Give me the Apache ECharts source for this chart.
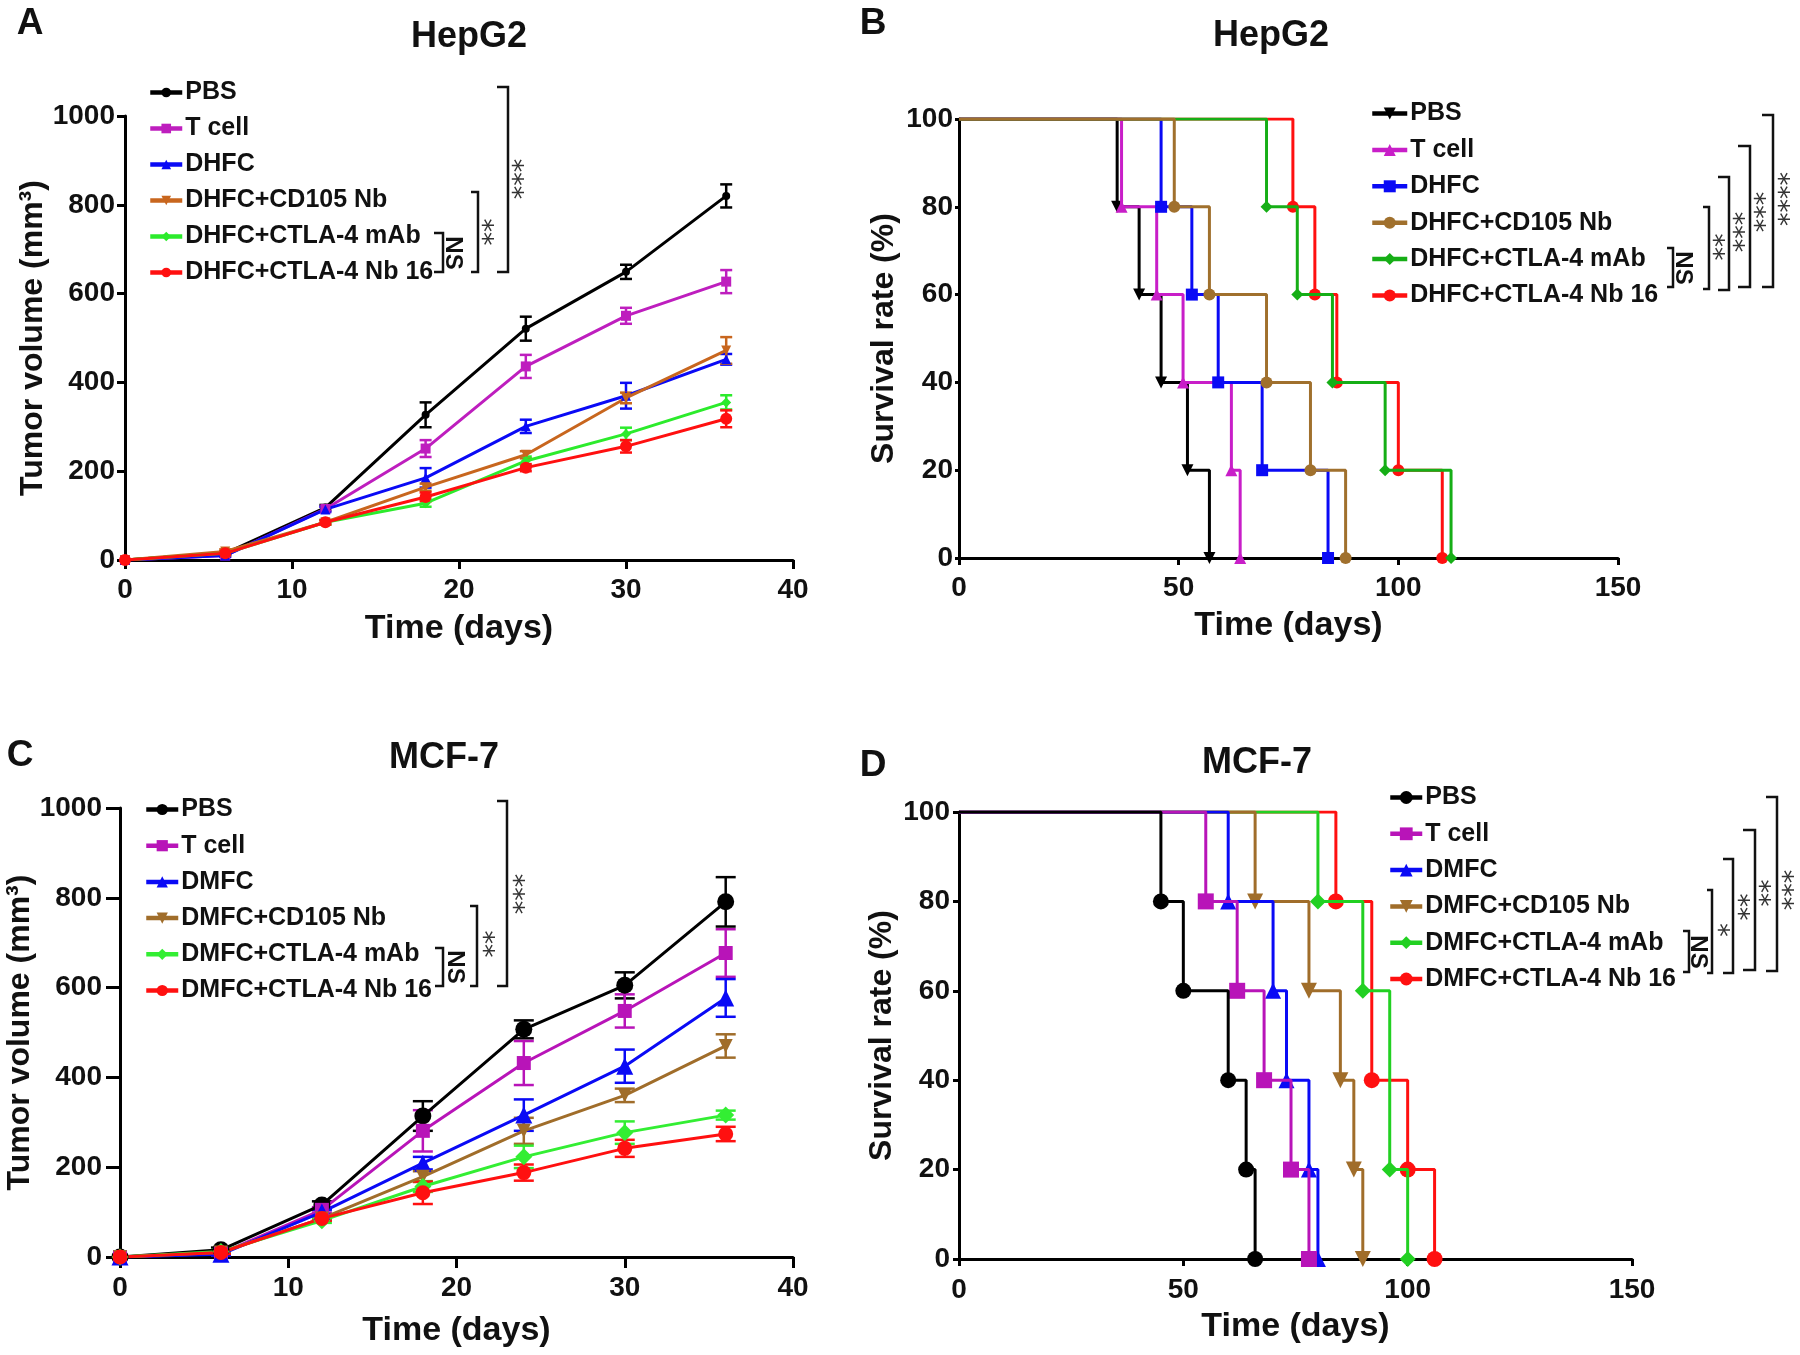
<!DOCTYPE html>
<html><head><meta charset="utf-8">
<script src="https://cdn.jsdelivr.net/npm/echarts@6/dist/echarts.min.js"></script>
<style>html,body{margin:0;padding:0;background:#fff}#c{width:1800px;height:1355px}</style>
</head><body><div id="c"></div>
<script>
// ---------- DATA ----------
const daysTumor = [0, 6, 12, 18, 24, 30, 36];
const xTicksTumor = [0, 10, 20, 30, 40];
const yTicksTumor = [0, 200, 400, 600, 800, 1000];
const xTicksSurv = [0, 50, 100, 150];
const yTicksSurv = [0, 20, 40, 60, 80, 100];

const groupsA = ['PBS', 'T cell', 'DHFC', 'DHFC+CD105 Nb', 'DHFC+CTLA-4 mAb', 'DHFC+CTLA-4 Nb 16'];
const groupsC = ['PBS', 'T cell', 'DMFC', 'DMFC+CD105 Nb', 'DMFC+CTLA-4 mAb', 'DMFC+CTLA-4 Nb 16'];

// Panel A – HepG2 tumour volume (mean, SEM)
const A_PBS   = [0, 15, 118, 327, 521, 649, 820];
const A_Tcell = [0, 10, 115, 251, 436, 550, 627];
const A_DHFC  = [0, 10, 114, 185, 301, 370, 452];
const A_CD105 = [0, 19, 85, 164, 237, 365, 472];
const A_mAb   = [0, 15, 85, 128, 223, 284, 355];
const A_Nb16  = [0, 15, 85, 142, 208, 256, 318];
const A_PBS_err   = [0, 4, 6, 28, 27, 16, 26];
const A_Tcell_err = [0, 3, 5, 19, 26, 18, 26];
const A_DHFC_err  = [0, 3, 6, 22, 15, 29, 12];
const A_CD105_err = [0, 5, 5, 8, 8, 12, 30];
const A_mAb_err   = [0, 4, 5, 8, 10, 14, 16];
const A_Nb16_err  = [0, 4, 5, 10, 8, 14, 19];

// Panel C – MCF-7 tumour volume (mean, SEM)
const C_PBS   = [0, 16, 116, 314, 507, 605, 791];
const C_Tcell = [0, 8, 105, 281, 432, 548, 677];
const C_DMFC  = [0, 6, 100, 209, 316, 425, 577];
const C_CD105 = [0, 10, 86, 179, 281, 360, 470];
const C_mAb   = [0, 12, 81, 157, 223, 277, 316];
const C_Nb16  = [0, 10, 86, 143, 188, 242, 274];
const C_PBS_err   = [0, 5, 8, 33, 20, 29, 55];
const C_Tcell_err = [0, 3, 6, 46, 49, 37, 53];
const C_DMFC_err  = [0, 3, 5, 14, 35, 37, 42];
const C_CD105_err = [0, 3, 5, 12, 29, 15, 26];
const C_mAb_err   = [0, 4, 5, 12, 25, 25, 10];
const C_Nb16_err  = [0, 3, 5, 25, 18, 19, 16];

// Panel B – HepG2 survival: event times and survival (%) after each event
const survLevels = [80, 60, 40, 20, 0];
const B_PBS_t   = [36, 41, 46, 52, 57];
const B_Tcell_t = [37, 45, 51, 62, 64];
const B_DHFC_t  = [46, 53, 59, 69, 84];
const B_CD105_t = [49, 57, 70, 80, 88];
const B_mAb_t   = [70, 77, 85, 97, 112];
const B_Nb16_t  = [76, 81, 86, 100, 110];

// Panel D – MCF-7 survival
const D_PBS_t   = [45, 50, 60, 64, 66];
const D_PBS_s   = [80, 60, 40, 20, 0];
const D_Tcell_t = [55, 62, 68, 74, 78];
const D_Tcell_s = [80, 60, 40, 20, 0];
const D_DMFC_t  = [60, 70, 73, 78, 80];
const D_DMFC_s  = [80, 60, 40, 20, 0];
const D_CD105_t = [66, 78, 85, 88, 90];
const D_CD105_s = [80, 60, 40, 20, 0];
const D_mAb_t   = [80, 90, 96, 100];
const D_mAb_s   = [80, 60, 20, 0];
const D_Nb16_t  = [84, 92, 100, 106];
const D_Nb16_s  = [80, 40, 20, 0];

// ---------- STYLE ----------
const FONT = "'Liberation Sans', Arial, Helvetica, sans-serif";
const STARFONT = "'DejaVu Sans', sans-serif";
const colA = ['#000000', '#BE1EBE', '#0A0AF5', '#C8661E', '#2CEB2C', '#FF1010'];
const colB = ['#000000', '#C81EC8', '#0A0AF5', '#A0702D', '#16AE16', '#FF1010'];
const colC = ['#000000', '#B814B8', '#0A0AF5', '#A06D2A', '#33EE33', '#FF1010'];
const colD = ['#000000', '#B814B8', '#0A0AF5', '#A06D2A', '#22D022', '#FF1010'];

const chart = echarts.init(document.getElementById('c'), null, {renderer: 'canvas', width: 1800, height: 1355});

function valAxis(gi, ticks, name, gap, margin, tickLen, nameSize) {
  return {
    type: 'value', gridIndex: gi,
    min: ticks[0], max: ticks[ticks.length - 1], interval: ticks[1] - ticks[0],
    name: name, nameLocation: 'middle', nameGap: gap,
    nameTextStyle: {fontSize: nameSize, fontWeight: 'bold', color: '#111', fontFamily: FONT},
    axisLine: {show: true, onZero: false, lineStyle: {color: '#000', width: 3}},
    axisTick: {show: true, length: tickLen, lineStyle: {color: '#000', width: 3}},
    axisLabel: {fontSize: 28, fontWeight: 'bold', color: '#111', fontFamily: FONT, margin: margin,
      formatter: v => String(v)},
    splitLine: {show: false}
  };
}

const series = [];

function addTumor(prefix, gi, names, means, errs, colors, symbols, rotates, sizes, hw) {
  names.forEach((nm, k) => {
    const color = colors[k];
    const m = means[k], e = errs[k];
    series.push({
      type: 'custom', name: prefix + 'err' + k, xAxisIndex: gi, yAxisIndex: gi, silent: true, clip: false, z: 2,
      data: daysTumor.map((x, i) => [x, m[i] - e[i], m[i] + e[i], e[i]]).filter(d => d[3] > 0),
      encode: {x: 0, y: [1, 2]},
      renderItem: (params, api) => {
        const x = api.value(0);
        const p1 = api.coord([x, api.value(2)]);
        const p2 = api.coord([x, api.value(1)]);
        const st = {stroke: color, lineWidth: 2.5};
        return {type: 'group', children: [
          {type: 'line', shape: {x1: p1[0], y1: p1[1], x2: p2[0], y2: p2[1]}, style: st},
          {type: 'line', shape: {x1: p1[0] - hw, y1: p1[1], x2: p1[0] + hw, y2: p1[1]}, style: st},
          {type: 'line', shape: {x1: p2[0] - hw, y1: p2[1], x2: p2[0] + hw, y2: p2[1]}, style: st}
        ]};
      }
    });
    series.push({
      type: 'line', name: prefix + nm, xAxisIndex: gi, yAxisIndex: gi, z: 3,
      data: daysTumor.map((x, i) => [x, m[i]]),
      symbol: symbols[k], symbolRotate: rotates[k], symbolSize: sizes[k],
      itemStyle: {color: color}, lineStyle: {color: color, width: 3},
      showSymbol: true, animation: false
    });
  });
}

function addSurv(prefix, gi, names, times, survs, colors, symbols, rotates, size, zs) {
  names.forEach((nm, k) => {
    const data = [{value: [0, 100], symbol: 'none'}].concat(times[k].map((t, i) => [t, survs[k][i]]));
    series.push({
      type: 'line', name: prefix + nm, xAxisIndex: gi, yAxisIndex: gi, step: 'end', z: zs[k],
      data: data, symbol: symbols[k], symbolRotate: rotates[k], symbolSize: size,
      itemStyle: {color: colors[k]}, lineStyle: {color: colors[k], width: 3}, animation: false
    });
  });
}

addTumor('A:', 0, groupsA,
  [A_PBS, A_Tcell, A_DHFC, A_CD105, A_mAb, A_Nb16],
  [A_PBS_err, A_Tcell_err, A_DHFC_err, A_CD105_err, A_mAb_err, A_Nb16_err],
  colA, ['circle', 'rect', 'triangle', 'triangle', 'diamond', 'circle'], [0, 0, 0, 180, 0, 0],
  [8, 10, 10, 10, 10, 12], 6);

addSurv('B:', 1, groupsA,
  [B_PBS_t, B_Tcell_t, B_DHFC_t, B_CD105_t, B_mAb_t, B_Nb16_t],
  [survLevels, survLevels, survLevels, survLevels, survLevels, survLevels],
  colB, ['triangle', 'triangle', 'rect', 'circle', 'diamond', 'circle'], [180, 0, 0, 0, 0, 0], 12,
  [3, 4, 5, 9, 8, 7]);

addTumor('C:', 2, groupsC,
  [C_PBS, C_Tcell, C_DMFC, C_CD105, C_mAb, C_Nb16],
  [C_PBS_err, C_Tcell_err, C_DMFC_err, C_CD105_err, C_mAb_err, C_Nb16_err],
  colC, ['circle', 'rect', 'triangle', 'triangle', 'diamond', 'circle'], [0, 0, 0, 180, 0, 0],
  [17, 14, 17, 14, 17, 15], 10);

addSurv('D:', 3, groupsC,
  [D_PBS_t, D_Tcell_t, D_DMFC_t, D_CD105_t, D_mAb_t, D_Nb16_t],
  [D_PBS_s, D_Tcell_s, D_DMFC_s, D_CD105_s, D_mAb_s, D_Nb16_s],
  colD, ['circle', 'rect', 'triangle', 'triangle', 'diamond', 'circle'], [0, 0, 0, 180, 0, 0], 16,
  [9, 8, 7, 6, 5, 4]);

function legend(prefix, names, left, top, gap, iw, ih) {
  return {
    orient: 'vertical', left: left, top: top, itemGap: gap, itemWidth: iw, itemHeight: ih,
    padding: 0, selectedMode: false,
    data: names.map(n => prefix + n),
    formatter: n => n.slice(2),
    lineStyle: {width: 4.5},
    textStyle: {fontSize: 25, fontWeight: 'bold', color: '#111', fontFamily: FONT, lineHeight: 24, padding: [0, 0, 0, -2]}
  };
}

// ---------- ANNOTATIONS (brackets, titles, panel letters) ----------
const graphic = [];
function txt(x, y, s, font, rot, fill) {
  graphic.push({type: 'text', x: x, y: y, rotation: rot || 0, silent: true,
    style: {text: s, font: font, fill: fill || '#111', align: 'center', verticalAlign: 'middle'}});
}
function bracket(x, top, bottom, arm, label, lx, ly) {
  graphic.push({type: 'polyline', silent: true,
    shape: {points: [[arm, top], [x, top], [x, bottom], [arm, bottom]]},
    style: {stroke: '#111', lineWidth: 2.5, fill: null}});
  if (label === 'NS') txt(lx, ly, 'NS', `bold 24px ${FONT}`, -Math.PI / 2, '#111');
  else txt(lx - 6, ly, label, `normal 27px ${STARFONT}`, -Math.PI / 2, '#333');
}

const big = s => `bold ${s}px ${FONT}`;
txt(30, 24, 'A', big(37)); txt(873, 24, 'B', big(37));
txt(20, 756, 'C', big(37)); txt(873, 766, 'D', big(37));
txt(469, 37, 'HepG2', big(36)); txt(1271, 36, 'HepG2', big(36));
txt(444, 758, 'MCF-7', big(36)); txt(1257, 763, 'MCF-7', big(36));

bracket(508, 87, 272, 497, '***', 517, 179);
bracket(478, 192, 272, 471, '**', 487, 232);
bracket(443, 233, 272, 434, 'NS', 453, 253);

bracket(1673, 248, 287, 1667, 'NS', 1683, 268);
bracket(1709, 207, 289, 1703, '**', 1718, 247);
bracket(1729, 177, 290, 1718, '***', 1738, 232);
bracket(1750, 146, 287, 1738, '***', 1759, 212);
bracket(1773, 115, 287, 1762, '****', 1783, 199);

bracket(507, 801, 986, 497, '***', 518, 894);
bracket(477, 906, 986, 470, '**', 488, 944);
bracket(443, 948, 986, 435, 'NS', 455, 967);

bracket(1689, 931, 972, 1683, 'NS', 1698, 952);
bracket(1712, 890, 973, 1707, '*', 1723, 930);
bracket(1733, 859, 973, 1723, '**', 1743, 907);
bracket(1755, 830, 970, 1743, '**', 1764, 893);
bracket(1777, 797, 971, 1766, '***', 1787, 890);

const option = {
  backgroundColor: '#ffffff',
  animation: false,
  grid: [
    {left: 125, top: 116, width: 668, height: 444},
    {left: 959, top: 119, width: 659, height: 439},
    {left: 120, top: 808, width: 673, height: 449},
    {left: 959, top: 812, width: 673, height: 447}
  ],
  xAxis: [
    valAxis(0, xTicksTumor, 'Time (days)', 52, 16, 9, 34),
    valAxis(1, xTicksSurv, 'Time (days)', 51, 16, 7, 34),
    valAxis(2, xTicksTumor, 'Time (days)', 57, 17, 11, 34),
    valAxis(3, xTicksSurv, 'Time (days)', 51, 17, 7, 34)
  ],
  yAxis: [
    valAxis(0, yTicksTumor, 'Tumor volume (mm³)', 70, 10, 8, 32),
    valAxis(1, yTicksSurv, 'Survival rate (%)', 59, 6, 4, 32),
    valAxis(2, yTicksTumor, 'Tumor volume (mm³)', 75, 18, 14, 32),
    valAxis(3, yTicksSurv, 'Survival rate (%)', 61, 9, 6, 32)
  ],
  legend: [
    legend('A:', groupsA, 148, 80, 11, 32, 12),
    legend('B:', groupsA, 1370, 101, 11.4, 35, 15),
    legend('C:', groupsC, 144, 797, 11.2, 32, 14),
    legend('D:', groupsC, 1388, 785, 11.3, 32, 16)
  ],
  graphic: graphic,
  series: series
};
chart.setOption(option);
</script>
</body></html>
